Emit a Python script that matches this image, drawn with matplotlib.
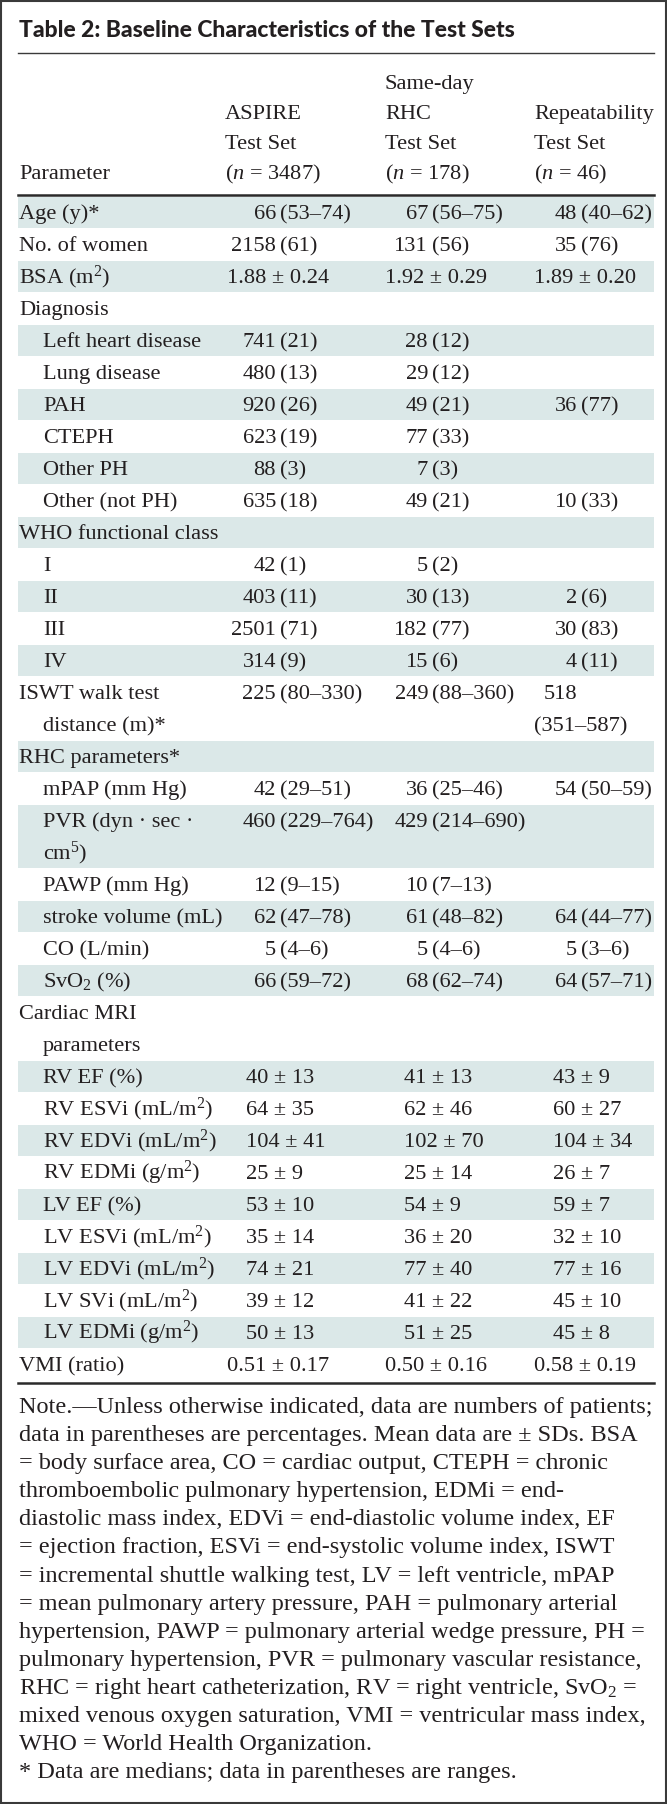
import matplotlib
matplotlib.use("Agg")
import matplotlib.pyplot as plt
from matplotlib.patches import Rectangle

plt.rcParams['mathtext.fontset'] = 'custom'
plt.rcParams['mathtext.rm'] = 'Liberation Serif'
plt.rcParams['mathtext.it'] = 'Liberation Serif:italic'
plt.rcParams['mathtext.bf'] = 'Liberation Serif:bold'

# ---- table content ----
title = "Table 2: Baseline Characteristics of the Test Sets"

col_heads = [
    ["Parameter"],
    ["ASPIRE", "Test Set", "($\\mathit{n}$ = 3487)"],
    ["Same-day", "RHC", "Test Set", "($\\mathit{n}$ = 178)"],
    ["Repeatability", "Test Set", "($\\mathit{n}$ = 46)"],
]

labels = [
    "Age (y)*", "No. of women", "BSA (m$^2$)", "Diagnosis",
    "Left heart disease", "Lung disease", "PAH", "CTEPH", "Other PH",
    "Other (not PH)", "WHO functional class", "I", "II", "III", "IV",
    "ISWT walk test\ndistance (m)*", "RHC parameters*", "mPAP (mm Hg)",
    "PVR (dyn · sec ·\ncm$^5$)", "PAWP (mm Hg)", "stroke volume (mL)",
    "CO (L/min)", "SvO$_2$ (%)", "Cardiac MRI\nparameters",
    "RV EF (%)", "RV ESVi (mL/m$^2$)", "RV EDVi (mL/m$^2$)",
    "RV EDMi (g/m$^2$)", "LV EF (%)", "LV ESVi (mL/m$^2$)",
    "LV EDVi (mL/m$^2$)", "LV SVi (mL/m$^2$)", "LV EDMi (g/m$^2$)",
    "VMI (ratio)",
]
indent = [0, 0, 0, 0, 1, 1, 1, 1, 1, 1, 0, 1, 1, 1, 1, 0, 0, 1, 1, 1, 1,
          1, 1, 0, 1, 1, 1, 1, 1, 1, 1, 1, 1, 0]

aspire = [
    "66 (53–74)", "2158 (61)", "1.88 ± 0.24", "", "741 (21)", "480 (13)",
    "920 (26)", "623 (19)", "88 (3)", "635 (18)", "", "42 (1)", "403 (11)",
    "2501 (71)", "314 (9)", "225 (80–330)", "", "42 (29–51)",
    "460 (229–764)", "12 (9–15)", "62 (47–78)", "5 (4–6)", "66 (59–72)", "",
    "40 ± 13", "64 ± 35", "104 ± 41", "25 ± 9", "53 ± 10", "35 ± 14",
    "74 ± 21", "39 ± 12", "50 ± 13", "0.51 ± 0.17",
]
same_day = [
    "67 (56–75)", "131 (56)", "1.92 ± 0.29", "", "28 (12)", "29 (12)",
    "49 (21)", "77 (33)", "7 (3)", "49 (21)", "", "5 (2)", "30 (13)",
    "182 (77)", "15 (6)", "249 (88–360)", "", "36 (25–46)",
    "429 (214–690)", "10 (7–13)", "61 (48–82)", "5 (4–6)", "68 (62–74)", "",
    "41 ± 13", "62 ± 46", "102 ± 70", "25 ± 14", "54 ± 9", "36 ± 20",
    "77 ± 40", "41 ± 22", "51 ± 25", "0.50 ± 0.16",
]
repeat = [
    "48 (40–62)", "35 (76)", "1.89 ± 0.20", "", "", "", "36 (77)", "", "",
    "10 (33)", "", "", "2 (6)", "30 (83)", "4 (11)", "518\n(351–587)", "",
    "54 (50–59)", "", "", "64 (44–77)", "5 (3–6)", "64 (57–71)", "",
    "43 ± 9", "60 ± 27", "104 ± 34", "26 ± 7", "59 ± 7", "32 ± 10",
    "77 ± 16", "45 ± 10", "45 ± 8", "0.58 ± 0.19",
]

note_lines = [
    "Note.—Unless otherwise indicated, data are numbers of patients;",
    "data in parentheses are percentages. Mean data are ± SDs. BSA",
    "= body surface area, CO = cardiac output, CTEPH = chronic",
    "thromboembolic pulmonary hypertension, EDMi = end-",
    "diastolic mass index, EDVi = end-diastolic volume index, EF",
    "= ejection fraction, ESVi = end-systolic volume index, ISWT",
    "= incremental shuttle walking test, LV = left ventricle, mPAP",
    "= mean pulmonary artery pressure, PAH = pulmonary arterial",
    "hypertension, PAWP = pulmonary arterial wedge pressure, PH =",
    "pulmonary hypertension, PVR = pulmonary vascular resistance,",
    "RHC = right heart catheterization, RV = right ventricle, SvO$_2$ =",
    "mixed venous oxygen saturation, VMI = ventricular mass index,",
    "WHO = World Health Organization.",
]
footnote = "* Data are medians; data in parentheses are ranges."

# ---- layout (pixel units) ----
W, H = 667, 1804
ink = "#231f20"
shade = "#dbe8e8"
left, right = 18, 654
lab_x = [19, 43]
col_left = [None, 225, 385, 534]
paren_x = [None, 280, 432, 581]
pm_x = [None, (227, 246), (385, 404), (534, 553)]
body_top = 197
pitch = 32

fig = plt.figure(figsize=(W / 100, H / 100), dpi=100)
ax = fig.add_axes([0, 0, 1, 1])
ax.set_xlim(0, W)
ax.set_ylim(H, 0)
ax.axis("off")
renderer = fig.canvas.get_renderer()


def fit_size(text, target, **kw):
    t = ax.text(0, 0, text, fontsize=10, **kw)
    w = t.get_window_extent(renderer).width
    t.remove()
    return 10 * target / w


serif = dict(family="Liberation Serif", color=ink)
fs = fit_size("stroke volume (mL)", 179, **serif)

# title
tfont = dict(family="Lato", weight="black")
tfs = fit_size(title, 496, **tfont)
ax.text(19, 37, title, fontsize=tfs, color=ink, va="baseline", **tfont)
ax.plot([left, right], [53, 53], color="#3a3a3a", lw=1.0)

# header
head_base = 179
for c, lines in enumerate(col_heads):
    x = lab_x[0] if c == 0 else col_left[c]
    for i, line in enumerate(reversed(lines)):
        ax.text(x, head_base - 30 * i, line, fontsize=fs, va="baseline", **serif)
ax.plot([left, right], [195, 195], color="#2a2a2a", lw=1.8)


def draw_cell(text, c, base):
    if not text:
        return
    if "\n" in text:
        a, b = text.split("\n")
        ax.text(paren_x[c] - 4, base, a, ha="right", fontsize=fs, va="baseline", **serif)
        ax.text(col_left[c], base + pitch, b, fontsize=fs, va="baseline", **serif)
    elif " (" in text:
        num, rest = text.split(" (", 1)
        ax.text(paren_x[c] - 4, base, num, ha="right", fontsize=fs, va="baseline", **serif)
        ax.text(paren_x[c], base, "(" + rest, fontsize=fs, va="baseline", **serif)
    else:
        x = pm_x[c][0] if "." in text else pm_x[c][1]
        ax.text(x, base, text, fontsize=fs, va="baseline", **serif)


line = 0
for r, lab in enumerate(labels):
    parts = lab.split("\n")
    n = len(parts)
    top = body_top + pitch * line
    if r % 2 == 0:
        ax.add_patch(Rectangle((left, top), right - left, pitch * n - 1,
                               facecolor=shade, edgecolor="none", zorder=0))
    base = top + pitch / 2 + 6
    for i, p in enumerate(parts):
        x = lab_x[indent[r]] if i == 0 else lab_x[1]
        ax.text(x, base + pitch * i, p, fontsize=fs, va="baseline", **serif)
    for c, vals in enumerate([aspire, same_day, repeat], start=1):
        draw_cell(vals[r], c, base)
    line += n

bottom = body_top + pitch * line + 2
ax.plot([left, right], [bottom, bottom], color="#2a2a2a", lw=1.8)

# notes
nfs = fit_size(note_lines[0], 632, **serif)
nb = 1413
for i, s in enumerate(note_lines):
    ax.text(19, nb + 28.1 * i, s, fontsize=nfs, va="baseline", **serif)
ax.text(19, nb + 28.1 * len(note_lines), footnote, fontsize=nfs,
        va="baseline", **serif)

# frame
ax.add_patch(Rectangle((1, 1), W - 2, H - 2, facecolor="none",
                       edgecolor="#3a3a3a", lw=1.5, zorder=5))

fig.savefig("out.png", dpi=100)
